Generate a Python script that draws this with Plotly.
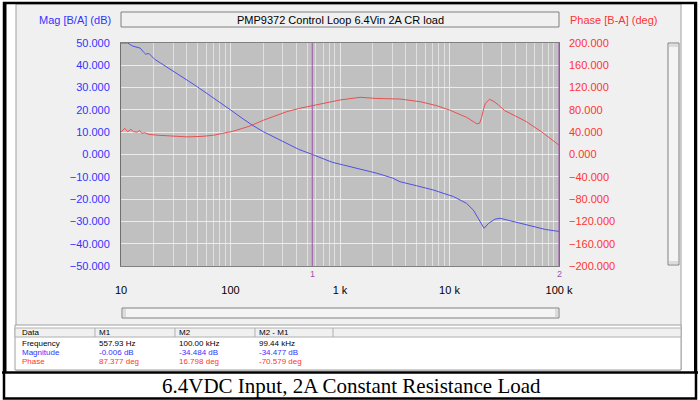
import plotly.graph_objects as go

# ---------------- data ----------------
freq_mag = [10, 11.5, 12.8, 14.0, 15.0, 16.0, 16.8, 18.0, 19.0, 20.4, 23, 26, 32, 40, 50, 63, 80,
            100, 130, 160, 200, 260, 330, 420, 560, 700, 850, 1070, 1500, 2170, 3000, 3530, 5000,
            7100, 10900, 14300, 16500, 19000, 20700, 22700, 26000, 29000, 35700, 45000, 58000,
            75000, 100000]
mag_db = [50.0, 50.0, 48.6, 48.0, 47.7, 46.0, 45.0, 45.3, 44.0, 42.6, 41.0, 39.4, 36.5, 33.4, 30.3,
          27.0, 23.4, 20.0, 16.0, 13.0, 10.2, 7.3, 5.0, 2.3, 0.0, -2.0, -3.5, -4.7, -6.5, -8.4,
          -10.5, -12.2, -14.0, -15.9, -18.9, -21.9, -24.9, -30.1, -33.1, -30.9, -29.0, -28.6,
          -29.7, -31.2, -32.4, -33.6, -34.5]

freq_ph = [10, 10.8, 11.5, 12.3, 13.0, 14.0, 14.8, 15.5, 16.5, 18, 22, 26, 40, 55, 70, 106, 150,
           200, 260, 326, 420, 558, 750, 1000, 1530, 2170, 3530, 5400, 7500, 10000, 14300, 16500,
           17800, 18800, 19600, 20500, 21300, 23200, 25500, 28000, 32000, 40000, 50500, 70000,
           100000]
phase_deg = [40, 47, 41, 45, 41, 40, 43, 38, 39, 36, 34.5, 34, 31.6, 32.5, 34.6, 41.8, 51, 61.5,
             69, 76.8, 82.5, 87.4, 93, 97.8, 102.6, 100.5, 99.5, 94.7, 88, 79.8, 66.7, 59, 55, 56,
             66, 82, 91.8, 99, 95, 88.8, 78.6, 69, 58.8, 40, 16.8]

x_tickvals = [10, 100, 1000, 10000, 100000]
x_ticktext = ["10", "100", "1 k", "10 k", "100 k"]
marker_freqs = [557.93, 100000]
marker_names = ["1", "2"]

title_text = "PMP9372 Control Loop 6.4Vin 2A CR load"
caption = "6.4VDC Input, 2A Constant Resistance Load"
table_header = ["Data", "M1", "M2", "M2 - M1"]
table_rows = [
    ("Frequency", ["557.93 Hz", "100.00 kHz", "99.44 kHz"], "#000000"),
    ("Magnitude", ["-0.006 dB", "-34.484 dB", "-34.477 dB"], "#3333ff"),
    ("Phase", ["87.377 deg", "16.798 deg", "-70.579 deg"], "#ff3333"),
]

# ---------------- geometry helpers ----------------
L, R, T, B = 121, 559, 43, 266
W, H = 700, 400


def px(x):
    return (x - L) / (R - L)


def py(y):
    return (B - y) / (B - T)


BLUE = "#5050e6"
RED = "#e85050"
FONT = "Liberation Sans"

fig = go.Figure()
fig.add_trace(go.Scatter(x=freq_mag, y=mag_db, mode="lines", line=dict(color=BLUE, width=1),
                         yaxis="y", showlegend=False, hoverinfo="skip"))
fig.add_trace(go.Scatter(x=freq_ph, y=phase_deg, mode="lines", line=dict(color=RED, width=1),
                         yaxis="y2", showlegend=False, hoverinfo="skip"))

shapes = []
annotations = []


def rect(x0, y0, x1, y1, fill=None, line=None, lw=1, layer="above"):
    shapes.append(dict(type="rect", xref="paper", yref="paper",
                       x0=px(x0), x1=px(x1), y0=py(y1), y1=py(y0),
                       fillcolor=fill if fill else "rgba(0,0,0,0)",
                       line=dict(color=line if line else "rgba(0,0,0,0)", width=lw if line else 0),
                       layer=layer))


def hline(x0, x1, y, color, lw=1):
    shapes.append(dict(type="line", xref="paper", yref="paper", x0=px(x0), x1=px(x1),
                       y0=py(y), y1=py(y), line=dict(color=color, width=lw)))


def vline(x, y0, y1, color, lw=1):
    shapes.append(dict(type="line", xref="paper", yref="paper", x0=px(x), x1=px(x),
                       y0=py(y0), y1=py(y1), line=dict(color=color, width=lw)))


def text(x, y, s, color="#000", size=11, xanchor="left", family=FONT):
    annotations.append(dict(xref="paper", yref="paper", x=px(x), y=py(y), text=s,
                            showarrow=False, xanchor=xanchor, yanchor="middle",
                            font=dict(color=color, size=size, family=family)))


# white outside areas
rect(0, 0, 16, 400, fill="white")
rect(681, 0, 700, 400, fill="white")
rect(0, 370, 700, 400, fill="white")
rect(0, 0, 700, 4, fill="white")
# panel border
rect(16, 4, 681, 370, line="#a0a0a0")

# title box
rect(121, 12, 559, 27, fill="#f0f0f0", line="#808080")
text(340, 19.5, title_text, "#000000", 11, "center")
text(113, 19.5, "Mag [B/A] (dB)", "#3333ff", 11, "right")
text(568, 19.5, "Phase [B-A] (deg)", "#ff3333", 11, "left")

# vertical scrollbar
rect(668, 43, 679, 265, fill="#f4f4f4", line="#808080")
rect(669, 44, 678, 47, fill="#dcdcdc")
rect(669, 261, 678, 264, fill="#dcdcdc")
# horizontal scrollbar
rect(122, 308, 559, 318, fill="#f4f4f4", line="#808080")
rect(123, 309, 126, 317, fill="#dcdcdc")
rect(555, 309, 558, 317, fill="#dcdcdc")

# marker lines and labels
for f, n in zip(marker_freqs, marker_names):
    shapes.append(dict(type="line", xref="x", yref="paper", x0=f, x1=f, y0=0, y1=1,
                       line=dict(color="#a050b0", width=1)))
    text(px_val := (L + (R - L) * ( (__import__("math").log10(f) - 1) / 4)), 273.5, n,
         "#a050b0", 9, "center")

# table
rect(15, 325, 681, 370, fill="white", line="#a0a0a0")
rect(15, 328, 681, 337, fill="#f0f0f0", line="#b0b0b0")
for cx in [95, 175, 255, 333]:
    vline(cx, 328, 337, "#b0b0b0")
col_x = [20, 97, 177, 257]
for cx, h in zip(col_x, table_header):
    text(cx, 332.5, h, "#000000", 8)
for i, (name, vals, col) in enumerate(table_rows):
    yy = 343 + 9 * i
    text(20, yy, name, col, 8)
    for cx, v in zip(col_x[1:], vals):
        text(cx, yy, v, col, 8)

# caption
hline(2, 698, 372.5, "#000000", 2.5)
text(351, 386, caption, "#000000", 21, "center", "Liberation Serif")

# outer frame
shapes.append(dict(type="rect", xref="paper", yref="paper", x0=px(4), x1=px(696),
                   y0=py(398.5), y1=py(3), line=dict(color="#000000", width=2.5)))
vline(5.5, 3, 372, "#000000", 2)
vline(695, 3, 372, "#000000", 2)

fig.update_layout(
    width=W, height=H,
    margin=dict(l=L, r=W - R, t=T, b=H - B),
    paper_bgcolor="#f0f0f0",
    plot_bgcolor="#c0c0c0",
    shapes=shapes,
    annotations=annotations,
    xaxis=dict(type="log", range=[1, 5], tickvals=x_tickvals, ticktext=x_ticktext,
               tickfont=dict(color="#000000", size=11, family=FONT),
               ticks="", ticklabelstandoff=14, showgrid=True, gridcolor="#e8e8e8", gridwidth=1,
               minor=dict(tickvals=[m * 10 ** d for d in range(1, 5) for m in range(2, 10)],
                          showgrid=True, gridcolor="#e0e0e0", gridwidth=1),
               showline=True, linecolor="#808080", linewidth=1, mirror=True, zeroline=False,
               fixedrange=True),
    yaxis=dict(range=[-50, 50], dtick=10, tickformat=".3f",
               tickfont=dict(color="#3333ff", size=11, family=FONT), ticklabelstandoff=8,
               showgrid=True, gridcolor="#ececec", gridwidth=1, zeroline=False,
               showline=True, linecolor="#707070", linewidth=1, mirror=True),
    yaxis2=dict(range=[-200, 200], dtick=40, tickformat=".3f", overlaying="y", side="right",
                tickfont=dict(color="#ff3333", size=11, family=FONT), ticklabelstandoff=9,
                showgrid=False, zeroline=False),
)

fig.write_html("out.html")
